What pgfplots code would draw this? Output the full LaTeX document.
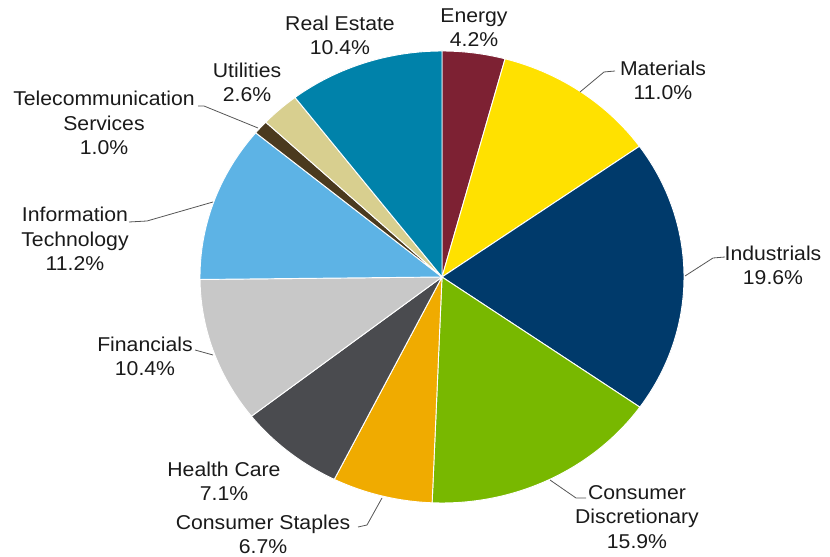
\documentclass[border=0pt]{standalone}
\usepackage{pgfplots}
\usepackage{pgfplotstable}
\usepackage{fontspec}
\setmainfont{Liberation Sans}[FakeStretch=1.06]
\pgfplotsset{compat=1.18}

\definecolor{cEnergy}{HTML}{7D2133}
\definecolor{cMaterials}{HTML}{FFE100}
\definecolor{cIndustrials}{HTML}{003A6B}
\definecolor{cDiscr}{HTML}{78B800}
\definecolor{cStaples}{HTML}{F0AB00}
\definecolor{cHealth}{HTML}{4A4B4F}
\definecolor{cFin}{HTML}{C8C8C8}
\definecolor{cIT}{HTML}{5DB3E5}
\definecolor{cTelecom}{HTML}{4B3A1E}
\definecolor{cUtil}{HTML}{D8CF8F}
\definecolor{cRE}{HTML}{0082AA}
\definecolor{txt}{HTML}{1A1A1A}
\definecolor{lead}{HTML}{555555}

% sector weights, clockwise from 12 o'clock
\pgfplotstableread[col sep=comma]{
sector,share,color
Energy,4.2,cEnergy
Materials,11.0,cMaterials
Industrials,19.6,cIndustrials
Consumer Discretionary,15.9,cDiscr
Consumer Staples,6.7,cStaples
Health Care,7.1,cHealth
Financials,10.4,cFin
Information Technology,11.2,cIT
Telecommunication Services,1.0,cTelecom
Utilities,2.6,cUtil
Real Estate,10.4,cRE
}\sectors

\begin{document}
\begin{tikzpicture}
\begin{axis}[
    scale only axis,
    width=622.5pt, height=417pt,
    xmin=0, xmax=830, ymin=0, ymax=556,
    hide axis, clip=false,
]
\path (axis cs:0,0) rectangle (axis cs:830,556);

% total of the weights
\pgfmathsetmacro\total{0}
\pgfplotsforeachungrouped \i in {0,...,10}{%
  \pgfplotstablegetelem{\i}{share}\of\sectors
  \pgfmathsetmacro\total{\total+\pgfplotsretval}%
}
% slices
\pgfmathsetmacro\cum{0}
\pgfplotsforeachungrouped \i in {0,...,10}{%
  \pgfplotstablegetelem{\i}{share}\of\sectors \let\sv\pgfplotsretval
  \pgfplotstablegetelem{\i}{color}\of\sectors \let\sc\pgfplotsretval
  \pgfmathsetmacro\sa{90-360*(\cum/\total)}%
  \pgfmathsetmacro\cum{\cum+\sv}%
  \pgfmathsetmacro\sb{90-360*(\cum/\total)}%
  \edef\slice{\noexpand\addplot[fill=\sc, draw=white, line width=0.7pt,
      domain=\sb:\sa, samples=60, variable=\noexpand\t]
    ({442+242*cos(\noexpand\t)},{279+226*sin(\noexpand\t)})
    -- (axis cs:442,279) -- cycle;}%
  \slice
}

% leader lines
\begin{scope}[draw=lead, line width=0.6pt]
\draw (axis cs:615,485) -- (axis cs:604,484) -- (axis cs:580,464);
\draw (axis cs:725,299) -- (axis cs:713,298) -- (axis cs:685,280);
\draw (axis cs:586,58) -- (axis cs:576,58) -- (axis cs:550,76);
\draw (axis cs:358,29) -- (axis cs:367,31) -- (axis cs:382,58);
\draw (axis cs:195,206) -- (axis cs:213,201);
\draw (axis cs:129,334) -- (axis cs:147,335) -- (axis cs:213,354);
\draw (axis cs:198,450) -- (axis cs:204,450) -- (axis cs:258,428);
\end{scope}

% labels
\begin{scope}[every node/.style={text=txt, align=center, inner sep=0pt,
    font=\fontsize{15}{18.2}\selectfont}]
\node at (axis cs:474,528) {Energy\\4.2\%};
\node at (axis cs:663,476) {Materials\\11.0\%};
\node at (axis cs:773,291) {Industrials\\19.6\%};
\node at (axis cs:637,39) {Consumer\\Discretionary\\15.9\%};
\node at (axis cs:263,22) {Consumer Staples\\6.7\%};
\node at (axis cs:224,75) {Health Care\\7.1\%};
\node at (axis cs:145,200) {Financials\\10.4\%};
\node at (axis cs:75,317) {Information\\Technology\\11.2\%};
\node at (axis cs:104,433) {Telecommunication\\Services\\1.0\%};
\node at (axis cs:247,474) {Utilities\\2.6\%};
\node at (axis cs:340,521) {Real Estate\\10.4\%};
\end{scope}
\end{axis}
\end{tikzpicture}
\end{document}
